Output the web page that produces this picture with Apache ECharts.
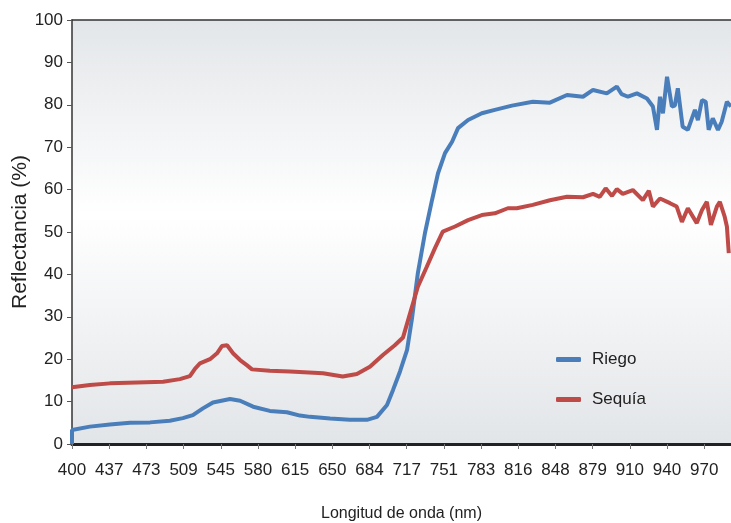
<!DOCTYPE html>
<html>
<head>
<meta charset="utf-8">
<script src="https://cdn.jsdelivr.net/npm/echarts@6/dist/echarts.min.js"></script>
<style>
html,body{margin:0;padding:0;background:#fff;}
#chart{width:731px;height:523px;}
</style>
</head>
<body>
<div id="chart"></div>
<script>
// X tick labels (wavelength, nm) – one per tick position 0..17
const tickLabels = ['400','437','473','509','545','580','615','650','684','717','751','783','816','848','879','910','940','970'];
const seriesNames = ['Riego', 'Sequía'];
const yTitle = 'Reflectancia (%)';
const xTitle = 'Longitud de onda (nm)';

// Positions along the x axis expressed in tick-index units (0 = 400 nm, 1 = 437 nm, ...)
const riegoX = [0, 0, 0.48, 1.02, 1.56, 2.10, 2.63, 2.98, 3.25, 3.52, 3.79, 4.25, 4.52, 4.87, 5.32, 5.78, 6.13, 6.40, 6.94, 7.47, 7.93, 8.20, 8.47, 8.63, 8.82, 9.01, 9.14, 9.30, 9.49, 9.68, 9.84, 10.03, 10.22, 10.38, 10.65, 11.02, 11.37, 11.83, 12.39, 12.85, 13.31, 13.74, 14.01, 14.38, 14.65, 14.78, 14.95, 15.19, 15.46, 15.62, 15.73, 15.81, 15.89, 16.00, 16.13, 16.21, 16.29, 16.42, 16.56, 16.75, 16.83, 16.94, 17.04, 17.12, 17.23, 17.37, 17.47, 17.61, 17.72];
const riegoY = [0, 3.3, 4.1, 4.6, 5.0, 5.1, 5.5, 6.1, 6.8, 8.4, 9.8, 10.6, 10.2, 8.8, 7.8, 7.5, 6.7, 6.4, 6.0, 5.7, 5.7, 6.4, 9.2, 12.7, 17.1, 22.2, 29.5, 40.3, 49.7, 57.5, 63.8, 68.6, 71.3, 74.5, 76.4, 78.0, 78.8, 79.8, 80.7, 80.5, 82.3, 81.9, 83.5, 82.7, 84.3, 82.5, 81.9, 82.7, 81.5, 79.6, 74.1, 81.9, 78.0, 86.6, 79.6, 79.8, 83.9, 74.8, 74.1, 78.8, 76.4, 81.1, 80.7, 74.1, 76.8, 74.1, 76.0, 80.7, 79.6];

const sequiaX = [0, 0.48, 1.02, 1.75, 2.45, 2.90, 3.17, 3.31, 3.44, 3.71, 3.90, 4.03, 4.17, 4.33, 4.52, 4.70, 4.84, 5.32, 5.86, 6.75, 7.28, 7.66, 8.01, 8.36, 8.68, 8.90, 9.09, 9.30, 9.54, 9.76, 9.97, 10.30, 10.65, 11.02, 11.37, 11.72, 11.96, 12.39, 12.85, 13.31, 13.74, 14.01, 14.19, 14.35, 14.52, 14.65, 14.81, 15.08, 15.35, 15.51, 15.62, 15.81, 16.08, 16.26, 16.40, 16.56, 16.80, 16.94, 17.07, 17.18, 17.34, 17.42, 17.55, 17.61, 17.66];
const sequiaY = [13.4, 13.9, 14.3, 14.5, 14.7, 15.3, 16.0, 17.8, 19.0, 20.0, 21.4, 23.1, 23.3, 21.4, 19.8, 18.6, 17.6, 17.3, 17.1, 16.7, 15.9, 16.5, 18.2, 21.0, 23.3, 25.1, 30.8, 37.1, 41.8, 46.2, 50.1, 51.3, 52.8, 54.0, 54.4, 55.6, 55.6, 56.4, 57.5, 58.3, 58.2, 59.0, 58.3, 60.3, 58.5, 60.1, 59.0, 59.9, 57.5, 59.7, 56.0, 57.9, 56.8, 56.0, 52.4, 55.6, 52.1, 55.2, 57.1, 51.7, 56.0, 57.1, 53.6, 51.3, 45.0];

const zip = (xs, ys) => xs.map((x, i) => [x, ys[i]]);

const FONT = "'Liberation Sans', Arial, sans-serif";
const chart = echarts.init(document.getElementById('chart'), null, {renderer: 'canvas'});

const xMax = 17.72;
const option = {
  animation: false,
  backgroundColor: '#ffffff',
  grid: {
    left: 72, right: 0, top: 20, bottom: 79,
    containLabel: false, outerBoundsMode: 'none',
    show: true, borderWidth: 0,
    backgroundColor: new echarts.graphic.LinearGradient(0, 0, 0, 1, [
      {offset: 0, color: '#e3e6e9'},
      {offset: 0.46, color: '#ffffff'},
      {offset: 1, color: '#e2e5e8'}
    ])
  },
  graphic: [{
    type: 'text', x: 20, y: 232, rotation: Math.PI / 2,
    style: {text: yTitle, font: "21px 'Liberation Sans', Arial, sans-serif", fill: '#222',
            align: 'center', verticalAlign: 'middle'}
  }],
  legend: {
    orient: 'vertical',
    left: 551, top: 346,
    itemWidth: 25, itemHeight: 5,
    itemGap: 23,
    icon: 'roundRect',
    data: seriesNames,
    textStyle: {fontFamily: FONT, fontSize: 17, color: '#222', padding: [0, 0, 0, 6]}
  },
  xAxis: [{
    type: 'value', min: 0, max: xMax, interval: 1,
    name: xTitle, nameLocation: 'middle', nameGap: 62,
    nameTextStyle: {fontFamily: FONT, fontSize: 16, color: '#222'},
    axisLine: {show: true, lineStyle: {color: '#222', width: 3}},
    axisTick: {show: true, length: 5, lineStyle: {color: '#777', width: 1}},
    axisLabel: {
      margin: 18, fontFamily: FONT, fontSize: 17, color: '#222', showMaxLabel: false,
      formatter: v => (Number.isInteger(v) && tickLabels[v] !== undefined) ? tickLabels[v] : ''
    },
    splitLine: {show: false}
  }, {
    type: 'value', min: 0, max: xMax, position: 'top',
    axisLine: {show: true, lineStyle: {color: '#333', width: 1.5}},
    axisTick: {show: false}, axisLabel: {show: false}, splitLine: {show: false}
  }],
  yAxis: {
    type: 'value', min: 0, max: 100, interval: 10,
    axisLine: {show: true, lineStyle: {color: '#333', width: 1.5}},
    axisTick: {show: true, length: 5, lineStyle: {color: '#555', width: 1}},
    axisLabel: {margin: 9, fontFamily: FONT, fontSize: 17, color: '#222'},
    splitLine: {show: false}
  },
  series: [{
    name: seriesNames[0], type: 'line', data: zip(riegoX, riegoY),
    showSymbol: false, symbol: 'none', smooth: false,
    itemStyle: {color: '#4a7ebb'},
    lineStyle: {color: '#4a7ebb', width: 4}
  }, {
    name: seriesNames[1], type: 'line', data: zip(sequiaX, sequiaY),
    showSymbol: false, symbol: 'none', smooth: false,
    itemStyle: {color: '#be4b48'},
    lineStyle: {color: '#be4b48', width: 4}
  }]
};
chart.setOption(option);
</script>
</body>
</html>
